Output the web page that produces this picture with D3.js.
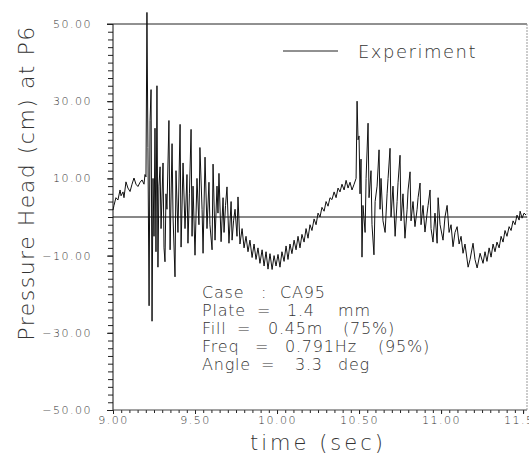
<!DOCTYPE html>
<html>
<head>
<meta charset="utf-8">
<script src="https://cdn.jsdelivr.net/npm/d3@7"></script>
<style>
  body { margin: 0; background: #fff; }
  svg { font-family: "DejaVu Sans", sans-serif; font-weight: 200; }
</style>
</head>
<body>
<div id="chart"></div>
<script>
// tick labels
var yLabelValues = [50, 30, 10, -10, -30, -50];
var xLabelValues = [9.0, 9.5, 10.0, 10.5, 11.0, 11.5];
var legendLabel = "Experiment";

// case notes (text only, columns placed below)
var noteLines = [
  ["Case", ":", "CA95"],
  ["Plate", "=", "1.4", "mm"],
  ["Fill", "=", "0.45m", "(75%)"],
  ["Freq", "=", "0.791Hz", "(95%)"],
  ["Angle", "=", "3.3", "deg"]
];

// pressure head at P6 [time (sec), head (cm)]
var experiment = [
  [9.000, 1.8], [9.006, 3], [9.018, 5], [9.030, 4.4], [9.043, 7], [9.049, 5.5],
  [9.061, 6.5], [9.067, 5], [9.079, 9.1], [9.091, 7.5], [9.104, 6.6], [9.116, 8.5],
  [9.128, 10.1], [9.140, 8.5], [9.152, 7.9], [9.165, 9], [9.177, 9.6], [9.189, 8.5],
  [9.195, 11], [9.201, 10.4],
  // first slam burst
  [9.207, 53], [9.213, 18], [9.220, -23], [9.226, 25], [9.232, 33], [9.238, -27],
  [9.244, 10], [9.250, -5], [9.256, 23], [9.262, -9], [9.268, 34], [9.274, -13],
  [9.280, 8], [9.287, 13], [9.293, -3], [9.305, 14], [9.311, -8], [9.317, -11.6],
  [9.323, 6], [9.329, 2], [9.341, 25], [9.348, -8.5], [9.360, 19], [9.366, 0],
  [9.378, -15.5], [9.384, 12], [9.396, -4], [9.409, 24], [9.415, -7.8], [9.427, 14],
  [9.439, -3], [9.451, 11], [9.457, -6.8], [9.466, 6], [9.476, 22.7], [9.482, -5],
  [9.488, 8], [9.500, -9.9], [9.512, 10], [9.524, -2], [9.530, 18], [9.543, 2],
  [9.549, -9.4], [9.561, 15.5], [9.573, -3], [9.585, 9], [9.591, -2], [9.604, -8.5],
  [9.610, 13.7], [9.622, -6], [9.634, 8], [9.640, 1], [9.646, 11.3], [9.659, -6.4],
  [9.671, 5], [9.677, -4], [9.686, 3], [9.695, 7.8], [9.707, -6.8], [9.720, 4],
  [9.726, -6], [9.735, -1], [9.744, 2], [9.756, -5], [9.762, 5.2], [9.774, -7],
  [9.787, -3], [9.799, -8],
  // first trough and rise
  [9.811, -5], [9.823, -9], [9.835, -6], [9.848, -10.5], [9.860, -7], [9.872, -11],
  [9.884, -8], [9.896, -12], [9.909, -8.5], [9.921, -12.7], [9.933, -9], [9.945, -13.5],
  [9.957, -9.5], [9.970, -13.6], [9.982, -10], [9.994, -12.7], [10.006, -9.7], [10.018, -13],
  [10.030, -9], [10.043, -11.5], [10.055, -7.5], [10.067, -11], [10.079, -7], [10.091, -9.5],
  [10.104, -6], [10.116, -8.5], [10.128, -5], [10.140, -8], [10.152, -4.5], [10.165, -6.5],
  [10.177, -3], [10.189, -5.5], [10.201, -2], [10.213, -3.5], [10.226, -0.5], [10.238, -2],
  [10.250, 1], [10.262, 0], [10.274, 2.5], [10.287, 1.5], [10.299, 4], [10.311, 2.8],
  [10.323, 5], [10.335, 4.5], [10.348, 6.5], [10.360, 5], [10.372, 7.5], [10.384, 6.5],
  [10.396, 8.5], [10.409, 7], [10.421, 9.5], [10.433, 7.5], [10.445, 9], [10.457, 7],
  [10.470, 8.5], [10.482, 10],
  // second slam burst
  [10.488, 30], [10.494, 20], [10.500, 21], [10.506, 6], [10.512, 15], [10.518, -10.4],
  [10.524, 3], [10.537, -4], [10.543, 10], [10.555, 24.3], [10.561, 5], [10.573, 12],
  [10.579, -2], [10.591, -9.8], [10.598, 4], [10.610, 8], [10.622, 17.4], [10.628, 2],
  [10.634, 10], [10.646, -1], [10.659, -4], [10.671, 6], [10.677, 10], [10.689, 17.8],
  [10.695, 0], [10.707, 8], [10.720, -5], [10.732, 4], [10.738, 9], [10.750, 16],
  [10.756, -1], [10.768, 6], [10.780, -5.5], [10.793, 2], [10.799, 7], [10.811, 11.7],
  [10.817, -1], [10.829, 4], [10.841, -2.5], [10.854, 2], [10.860, 5], [10.872, 8.8],
  [10.878, -2], [10.890, 3], [10.902, -3.9], [10.915, 1], [10.921, 3], [10.933, 7],
  [10.939, -3], [10.951, -6.5], [10.963, 1], [10.976, -6.8], [10.982, 5], [10.994, -2],
  [11.012, -6], [11.024, 0], [11.037, 3], [11.049, -4], [11.061, -2], [11.073, -7.7],
  // second trough and rise
  [11.085, -4], [11.098, -2.5], [11.110, -7], [11.122, -5], [11.134, -9.4], [11.146, -7],
  [11.165, -13], [11.177, -11], [11.195, -6.8], [11.207, -11], [11.220, -13.2], [11.238, -9.4],
  [11.256, -12], [11.268, -9], [11.280, -11.5], [11.293, -8], [11.305, -10.4], [11.317, -7],
  [11.329, -9], [11.341, -6.5], [11.354, -8], [11.366, -5], [11.378, -6.5], [11.390, -3.5],
  [11.402, -5], [11.415, -2.5], [11.427, -3.5], [11.439, -1], [11.451, -2], [11.463, 0.5],
  [11.476, -0.8], [11.482, 1.5], [11.494, -0.3], [11.506, 1], [11.518, 0.5]
];

var svgWidth = 529;
var svgHeight = 460;
var margin = { top: 24, right: 2, bottom: 50, left: 113 };
var width = svgWidth - margin.left - margin.right;
var height = svgHeight - margin.top - margin.bottom;

var svg = d3.select("#chart")
  .append("svg")
  .attr("width", svgWidth)
  .attr("height", svgHeight);

var g = svg.append("g")
  .attr("transform", "translate(" + margin.left + "," + margin.top + ")");

var x = d3.scaleLinear().domain([9, 11.524]).range([0, width]);
var y = d3.scaleLinear().domain([-50, 50]).range([height, 0]);

var yMinor = d3.range(-50, 51, 2);
var xMinor = d3.range(0, 51).map(function (i) { return 9 + i * 0.05; });

// minor ticks
g.append("g")
  .call(d3.axisLeft(y).tickValues(yMinor).tickSize(5).tickFormat(""))
  .call(function (a) { a.select(".domain").remove(); });
g.append("g")
  .attr("transform", "translate(0," + height + ")")
  .call(d3.axisBottom(x).tickValues(xMinor).tickSize(3).tickFormat(""))
  .call(function (a) { a.select(".domain").remove(); });

// labelled ticks
var yAxis = g.append("g")
  .call(d3.axisLeft(y).tickValues(yLabelValues).tickSize(6).tickPadding(15)
    .tickFormat(d3.format(".2f")));
yAxis.select(".domain").remove();

var xAxis = g.append("g")
  .attr("transform", "translate(0," + height + ")")
  .call(d3.axisBottom(x).tickValues(xLabelValues).tickSize(4).tickPadding(2)
    .tickFormat(d3.format(".2f")));
xAxis.select(".domain").remove();

svg.selectAll(".tick text")
  .attr("font-family", "DejaVu Sans, sans-serif")
  .attr("font-size", 11)
  .attr("letter-spacing", 1.5)
  .attr("fill", "#333");
svg.selectAll(".tick line").attr("stroke", "#222");

// frame
g.append("line").attr("x1", 0).attr("x2", 0).attr("y1", 0).attr("y2", height)
  .attr("stroke", "#111");
g.append("line").attr("x1", 0).attr("x2", width).attr("y1", height).attr("y2", height)
  .attr("stroke", "#444");
g.append("line").attr("x1", -6).attr("x2", width).attr("y1", 0).attr("y2", 0)
  .attr("stroke", "#222");
g.append("line").attr("x1", width).attr("x2", width).attr("y1", 0).attr("y2", height)
  .attr("stroke", "#999").attr("stroke-dasharray", "2,1");
g.append("line").attr("x1", 0).attr("x2", width).attr("y1", y(0)).attr("y2", y(0))
  .attr("stroke", "#111");

// trace
var line = d3.line()
  .x(function (d) { return x(d[0]); })
  .y(function (d) { return y(d[1]); });

g.append("path")
  .datum(experiment)
  .attr("d", line)
  .attr("fill", "none")
  .attr("stroke", "#111")
  .attr("stroke-width", 1)
  .attr("stroke-linejoin", "round");

// legend
g.append("line")
  .attr("x1", 170).attr("x2", 225).attr("y1", 27).attr("y2", 27)
  .attr("stroke", "#222");
g.append("text")
  .attr("x", 245).attr("y", 34)
  .attr("font-size", 18)
  .attr("letter-spacing", 1.5)
  .attr("fill", "#333")
  .text(legendLabel);

// case notes
var noteX = [
  [89, 148, 167],
  [89, 144, 174, 225],
  [89, 124, 155, 230],
  [89, 142, 172, 265],
  [89, 148, 182, 225]
];
noteLines.forEach(function (parts, i) {
  var t = g.append("text")
    .attr("y", 274 + i * 18)
    .attr("font-size", 16)
    .attr("letter-spacing", 0.8)
    .attr("fill", "#333");
  parts.forEach(function (p, j) {
    t.append("tspan").attr("x", noteX[i][j]).text(p);
  });
});

// axis titles
svg.append("text")
  .attr("transform", "translate(34,183) rotate(-90)")
  .attr("text-anchor", "middle")
  .attr("font-size", 22)
  .attr("letter-spacing", 1.5)
  .attr("fill", "#333")
  .text("Pressure Head (cm) at P6");

svg.append("text")
  .attr("x", 318).attr("y", 450)
  .attr("text-anchor", "middle")
  .attr("font-size", 21)
  .attr("letter-spacing", 3)
  .attr("fill", "#333")
  .text("time (sec)");
</script>
</body>
</html>
